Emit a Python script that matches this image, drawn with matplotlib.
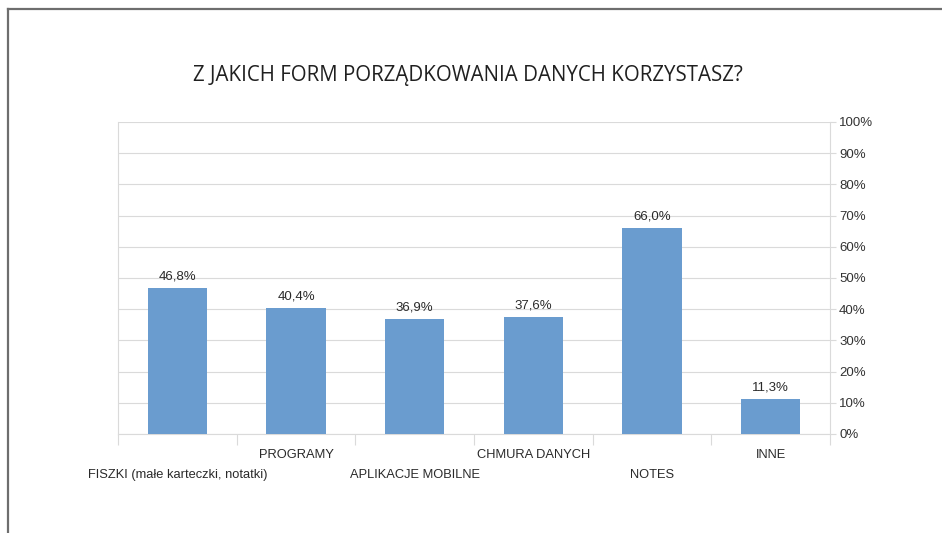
import matplotlib
matplotlib.use("Agg")
import matplotlib.pyplot as plt
from matplotlib.lines import Line2D
from matplotlib.ticker import FuncFormatter, FixedLocator

categories = ["FISZKI (małe karteczki, notatki)", "PROGRAMY", "APLIKACJE MOBILNE",
              "CHMURA DANYCH", "NOTES", "INNE"]
values = [46.8, 40.4, 36.9, 37.6, 66.0, 11.3]
value_labels = ["46,8%", "40,4%", "36,9%", "37,6%", "66,0%", "11,3%"]
yticks = [0, 10, 20, 30, 40, 50, 60, 70, 80, 90, 100]
title = "Z JAKICH FORM PORZĄDKOWANIA DANYCH KORZYSTASZ?"

W, H = 942, 533
fig = plt.figure(figsize=(W / 100, H / 100), dpi=100)
fig.patch.set_facecolor("white")

# outer frame (left and top edges visible)
fig.add_artist(Line2D([8 / W, 8 / W], [0, 1 - 9 / H], transform=fig.transFigure,
                      color="#6e6e6e", lw=1.6))
fig.add_artist(Line2D([8 / W, 1], [1 - 9 / H, 1 - 9 / H], transform=fig.transFigure,
                      color="#6e6e6e", lw=1.6))

left, right, bottom, top = 118, 830, 434, 122
ax = fig.add_axes([left / W, 1 - bottom / H, (right - left) / W, (bottom - top) / H])

x = list(range(len(categories)))
bars = ax.bar(x, values, width=0.5, color="#6a9ccf", zorder=3)
ax.set_xlim(-0.5, len(categories) - 0.5)
ax.set_ylim(0, 100)

grid_c = "#dadada"
ax.set_yticks(yticks)
ax.yaxis.set_major_formatter(FuncFormatter(lambda v, p: f"{int(v)}%"))
ax.yaxis.tick_right()
ax.tick_params(axis="y", length=4.5, width=0.8, color=grid_c, pad=2,
               labelsize=9.5, labelcolor="#333333")
for lab in ax.get_yticklabels():
    lab.set_fontfamily("Liberation Sans")
ax.grid(axis="y", color=grid_c, lw=0.8, zorder=0)

ax.set_xticks([])
ax.xaxis.set_minor_locator(FixedLocator([i - 0.5 for i in range(len(categories) + 1)]))
ax.tick_params(axis="x", which="minor", length=8, width=0.8, color=grid_c)

ax.spines["top"].set_visible(False)
for s in ["left", "right", "bottom"]:
    ax.spines[s].set_color(grid_c)
    ax.spines[s].set_linewidth(0.8)

for i, (v, t) in enumerate(zip(values, value_labels)):
    ax.annotate(t, xy=(i, v), xytext=(0, 4), textcoords="offset points",
                ha="center", va="bottom", fontsize=9.5, color="#2a2a2a",
                family="Liberation Sans")

for i, c in enumerate(categories):
    off = -29.5 if i % 2 == 0 else -14.8
    ax.annotate(c, xy=(i, 0), xycoords=("data", "axes fraction"),
                xytext=(0, off), textcoords="offset points",
                ha="center", va="center", fontsize=9.3, color="#2a2a2a",
                family="Liberation Sans")

fig.text(468 / W, 1 - 76 / H, title, ha="center", va="center",
         fontsize=14.8, color="#202020", family="Open Sans")

fig.savefig("out.png", dpi=100, facecolor="white")
